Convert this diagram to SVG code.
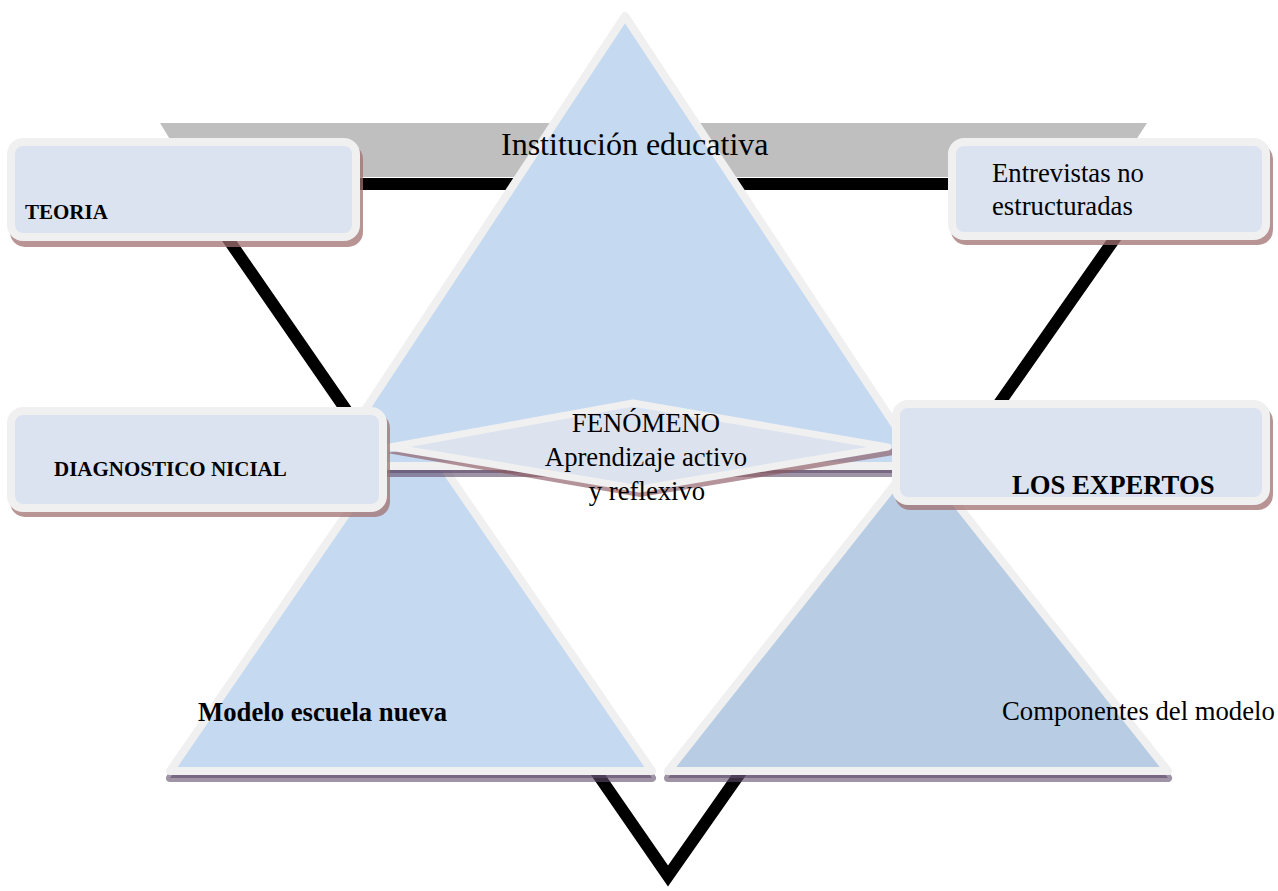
<svg xmlns="http://www.w3.org/2000/svg" width="1278" height="891" viewBox="0 0 1278 891">
<style>
  .tri { stroke: #f0f0f0; stroke-width: 8; stroke-linejoin: round; }
  .trishadow { fill: #5f4b6b; fill-opacity: 0.6; stroke: #5f4b6b; stroke-opacity: 0.6; stroke-width: 8; stroke-linejoin: round; }
  .box { fill: #dce3f0; stroke: #f0f0f0; stroke-width: 8; }
  .boxshadow { fill: #a07070; fill-opacity: 0.75; }
  .t { font-family: "Liberation Serif", "Times New Roman", serif; fill: #000; }
  .b { font-weight: bold; }
</style>

<g id="background">
  <polygon id="gray-plane" points="160,123 1147,123 1112,177 193,177" fill="#bfbfbf"/>
</g>

<g id="connectors">
  <polygon points="190,184 1153,184 668,876" fill="none" stroke="#000" stroke-width="12" stroke-linejoin="miter" stroke-miterlimit="10"/>
</g>

<g id="tri-left">
  <polygon class="trishadow" points="411,427 652,778 170,778"/>
  <polygon class="tri" points="411,420 652,771 170,771" fill="#c5d9f0"/>
  <text class="t b" x="198" y="721" font-size="26.7">Modelo escuela nueva</text>
</g>

<g id="tri-right">
  <polygon class="trishadow" points="918,462 1168,778 668,778"/>
  <polygon class="tri" points="918,455 1168,771 668,771" fill="#b8cce4"/>
  <text class="t" x="1002" y="720" font-size="26.7">Componentes del modelo</text>
</g>

<g id="tri-top">
  <polygon class="trishadow" points="625,23 922,473 328,473"/>
  <polygon class="tri" points="625,16 922,466 328,466" fill="#c5d9f0"/>
  <text class="t" x="501" y="155" font-size="32">Institución educativa</text>
</g>

<g id="fenomeno">
  <polygon points="387,453 633,408 912,452 640,497" fill="#8c5a64" fill-opacity="0.65"/>
  <polygon points="390,447 633,403 888,447 640,489" fill="#dce3ef" stroke="#f0f0f0" stroke-width="7" stroke-linejoin="round"/>
  <text class="t" x="646" y="432" font-size="26.7" text-anchor="middle">FENÓMENO</text>
  <text class="t" x="646" y="466" font-size="26.7" text-anchor="middle">Aprendizaje activo</text>
  <text class="t" x="647" y="500" font-size="26.7" text-anchor="middle">y reflexivo</text>
</g>

<g id="teoria">
  <rect class="boxshadow" x="10" y="144" width="353" height="103" rx="15"/>
  <rect class="box" x="11" y="142" width="345" height="95" rx="12"/>
  <text class="t b" x="25" y="219" font-size="21">TEORIA</text>
</g>

<g id="entrevistas">
  <rect class="boxshadow" x="951" y="144" width="322" height="101" rx="15"/>
  <rect class="box" x="952" y="142" width="314" height="94" rx="12"/>
  <text class="t" x="992" y="182" font-size="26.7">Entrevistas no</text>
  <text class="t" x="992" y="215" font-size="26.7">estructuradas</text>
</g>

<g id="diagnostico">
  <rect class="boxshadow" x="10" y="413" width="380" height="104" rx="15"/>
  <rect class="box" x="11" y="411" width="372" height="97" rx="12"/>
  <text class="t b" x="54" y="476" font-size="21">DIAGNOSTICO NICIAL</text>
</g>

<g id="expertos">
  <rect class="boxshadow" x="895" y="406" width="378" height="104" rx="15"/>
  <rect class="box" x="896" y="404" width="370" height="97" rx="12"/>
  <text class="t b" x="1012" y="494" font-size="26.7">LOS EXPERTOS</text>
</g>
</svg>
